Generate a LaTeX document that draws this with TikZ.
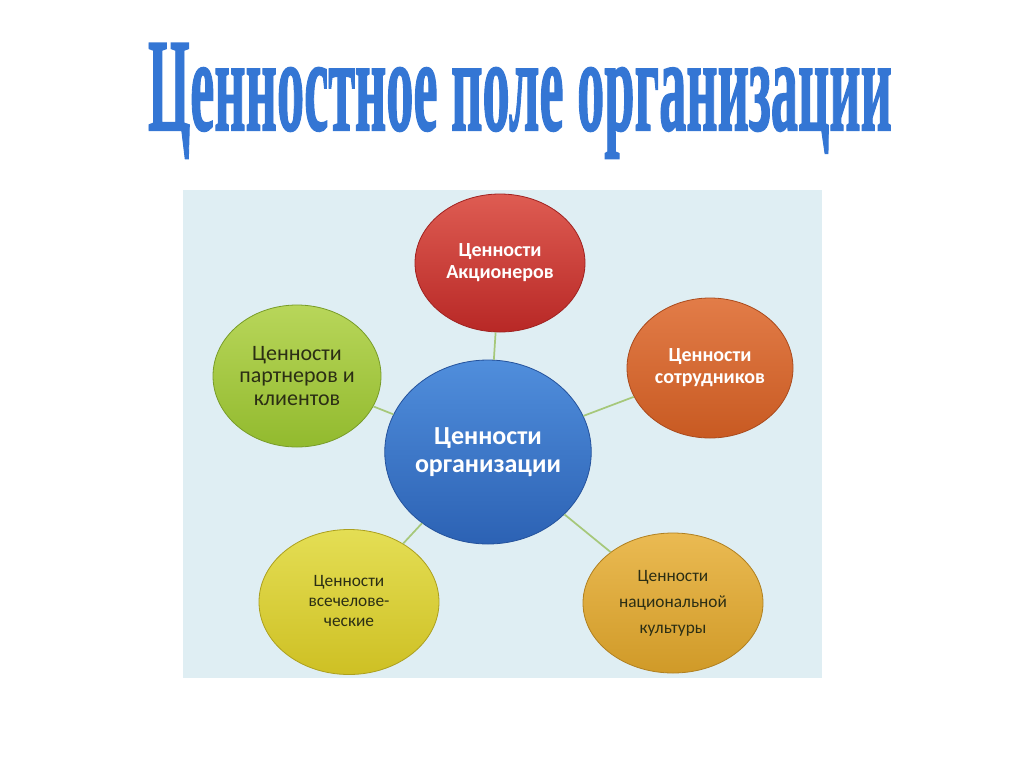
\documentclass[tikz,border=0pt]{standalone}
\usepackage{fontspec}
\setmainfont{Carlito}
\newfontfamily\titlefont[FakeBold=1.6]{Liberation Serif}
\usepackage{xcolor}
\usetikzlibrary{shapes.geometric}
\definecolor{backcolor}{HTML}{DFEEF3}
\definecolor{titleblue}{HTML}{3476D4}
\definecolor{linkcolor}{HTML}{A6C87A}
\definecolor{textdark}{HTML}{2B2E14}

\tikzset{
  value/.style = {ellipse, inner sep = 0pt, align = center, line width = 0.6pt},
  valuesmall/.style = {value, font = \fontsize{13}{16.5}\selectfont},
  valuebold/.style = {value, font = \fontsize{15}{16.5}\selectfont\bfseries},
  link/.style = {linkcolor, line width = 1.3pt}
}

\begin{document}
\begin{tikzpicture}[x = 0.75pt, y = -0.75pt]
        % Frame
        \useasboundingbox (0, 0) rectangle (1024, 768);
        \fill [backcolor] (183, 190) rectangle (822, 678);

        % Title
        \node [anchor = base, text = titleblue, font = \titlefont\bfseries] (title) at (520, 130) {\resizebox{558pt}{65pt}{Ценностное поле организации}};

        % Nodes
        \node [value, minimum width = 150pt, minimum height = 138pt, top color = {rgb,255:red,80;green,142;blue,220}, bottom color = {rgb,255:red,44;green,98;blue,180}, draw = {rgb,255:red,36;green,82;blue,156}, text = white, font = \fontsize{19.5}{20.5}\selectfont\bfseries] (org) at (488, 452) {Ценности\\организации};
        \node [valuebold, minimum width = 127.5pt, minimum height = 103.5pt, top color = {rgb,255:red,222;green,92;blue,82}, bottom color = {rgb,255:red,184;green,40;blue,38}, draw = {rgb,255:red,160;green,34;blue,32}, text = white] (owners) at (500, 263) {Ценности\\Акционеров};
        \node [valuesmall, minimum width = 126pt, minimum height = 106.5pt, top color = {rgb,255:red,184;green,214;blue,90}, bottom color = {rgb,255:red,146;green,186;blue,46}, draw = {rgb,255:red,120;green,156;blue,40}, text = textdark, font = \fontsize{16.5}{17}\selectfont] (clients) at (297, 376) {Ценности\\партнеров и\\клиентов};
        \node [valuebold, minimum width = 124.5pt, minimum height = 105pt, top color = {rgb,255:red,226;green,124;blue,72}, bottom color = {rgb,255:red,200;green,90;blue,34}, draw = {rgb,255:red,170;green,74;blue,28}, text = white] (staff) at (710, 368) {Ценности\\сотрудников};
        \node [valuesmall, minimum width = 135pt, minimum height = 108.75pt, top color = {rgb,255:red,228;green,222;blue,84}, bottom color = {rgb,255:red,206;green,192;blue,36}, draw = {rgb,255:red,172;green,160;blue,30}, text = textdark, font = \fontsize{13}{15}\selectfont] (human) at (349, 602) {\\[-8pt]Ценности\\всечелове-\\ческие};
        \node [valuesmall, minimum width = 135pt, minimum height = 105pt, top color = {rgb,255:red,234;green,186;blue,82}, bottom color = {rgb,255:red,208;green,154;blue,40}, draw = {rgb,255:red,176;green,128;blue,32}, text = textdark, font = \fontsize{13}{19.5}\selectfont] (culture) at (673, 603) {Ценности\\национальной\\культуры};

        % Draw the links
        \draw [link] (org) -- (owners);
        \draw [link] (org) -- (clients);
        \draw [link] (org) -- (staff);
        \draw [link] (org) -- (human);
        \draw [link] (org) -- (culture);
\end{tikzpicture}
\end{document}
